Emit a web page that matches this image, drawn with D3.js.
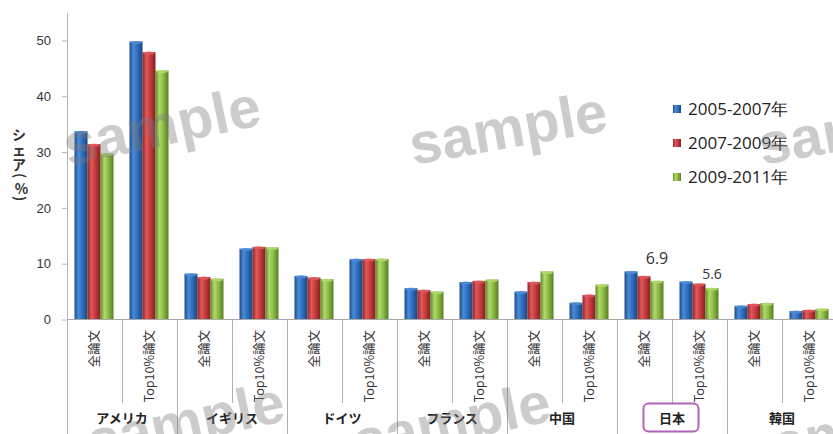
<!DOCTYPE html>
<html><head><meta charset="utf-8">
<script src="https://cdn.jsdelivr.net/npm/d3@7"></script>
<style>body{margin:0;background:#fff}svg{display:block}</style>
</head><body>
<script>
// ---- data ----
const groups = ["アメリカ","イギリス","ドイツ","フランス","中国","日本","韓国"];
const subTypes = ["全論文","Top10%論文"];
const series = ["2005-2007年","2007-2009年","2009-2011年"];
const s2005 = [33.7,49.8, 8.2,12.7, 7.8,10.8, 5.6,6.7, 5.0,3.0, 8.6,6.8, 2.45,1.5];
const s2007 = [31.4,47.9, 7.6,13.0, 7.5,10.8, 5.25,6.9, 6.7,4.4, 7.75,6.4, 2.75,1.7];
const s2009 = [29.7,44.6, 7.3,12.9, 7.2,10.85, 5.0,7.15, 8.6,6.25, 6.9,5.6, 2.95,1.9];
const yTicks = [0,10,20,30,40,50];
const annotations = [
  {group:"日本", sub:"全論文", series:"2009-2011年", text:"6.9"},
  {group:"日本", sub:"Top10%論文", series:"2009-2011年", text:"5.6"}
];
const highlightGroup = "日本";
const yTitle = "シェア(%)";
const watermark = "sample";

// ---- build ----
const W = 833, H = 434;
const seriesValues = [s2005, s2007, s2009];
const cats = [];
groups.forEach(g => subTypes.forEach(s => cats.push(g + "|" + s)));
const rows = [];
cats.forEach((c, i) => series.forEach((s, j) => rows.push({cat:c, series:s, value:seriesValues[j][i]})));

const svg = d3.select("body").append("svg").attr("width", W).attr("height", H);
const defs = svg.append("defs");
const pal = [
  ["#1d4a86","#4a8bd8","#2f6fbf","#1a4478"],
  ["#8e2326","#e0585a","#c63c3e","#7f1f22"],
  ["#5f8a26","#b0d86a","#8dbb44","#567d22"]
];
pal.forEach((p, i) => {
  const lg = defs.append("linearGradient").attr("id", "g" + i).attr("x1", 0).attr("x2", 1).attr("y1", 0).attr("y2", 0);
  lg.append("stop").attr("offset", "0%").attr("stop-color", p[0]);
  lg.append("stop").attr("offset", "30%").attr("stop-color", p[1]);
  lg.append("stop").attr("offset", "60%").attr("stop-color", p[2]);
  lg.append("stop").attr("offset", "100%").attr("stop-color", p[3]);
});

const x = d3.scaleBand().domain(cats).range([67, 837]);
const xs = d3.scaleBand().domain(series).range([7.5, 46.5]);
const y = d3.scaleLinear().domain([0, 55]).range([319.5, 12.5]);
const color = d3.scaleOrdinal().domain(series).range([0,1,2]);

// bars
svg.append("g").selectAll("rect").data(rows).join("rect")
  .attr("x", d => x(d.cat) + xs(d.series))
  .attr("width", xs.bandwidth())
  .attr("y", d => y(d.value))
  .attr("height", d => y(0) - y(d.value))
  .attr("fill", d => `url(#g${color(d.series)})`);
// top caps
svg.append("g").selectAll("ellipse").data(rows).join("ellipse")
  .attr("cx", d => x(d.cat) + xs(d.series) + xs.bandwidth()/2)
  .attr("cy", d => y(d.value) + 1)
  .attr("rx", xs.bandwidth()/2 - 0.5)
  .attr("ry", 1.6)
  .attr("fill", d => pal[color(d.series)][1])
  .attr("opacity", 0.9);

// y axis
const ya = svg.append("g").attr("transform", "translate(67,0)")
  .call(d3.axisLeft(y).tickValues(yTicks).tickSize(5).tickSizeOuter(0).tickPadding(11));
ya.select(".domain").attr("stroke", "#b4b4b4");
ya.selectAll(".tick line").attr("stroke", "#b4b4b4");
ya.selectAll(".tick text").attr("font-family", "Liberation Sans, Arial, sans-serif")
  .attr("font-size", 13).attr("fill", "#333");

// baseline
svg.append("line").attr("x1", 67).attr("x2", W).attr("y1", y(0)).attr("y2", y(0))
  .attr("stroke", "#a8a8a8");

// separators
const seps = cats.map((c, i) => ({x: x(c), major: i % 2 === 0})).concat([{x: x.range()[1], major: true}]);
svg.append("g").selectAll("line").data(seps).join("line")
  .attr("x1", d => Math.round(d.x) + 0.5).attr("x2", d => Math.round(d.x) + 0.5)
  .attr("y1", y(0)).attr("y2", d => d.major ? H : 403)
  .attr("stroke", "#b0b0b0");

// category labels (rotated)
svg.append("g").selectAll("text").data(cats).join("text")
  .attr("transform", c => `translate(${x(c) + x.bandwidth()/2 + 4},330) rotate(-90)`)
  .attr("text-anchor", "end")
  .attr("font-family", "Noto Sans CJK JP, sans-serif")
  .attr("font-size", 12.5).attr("fill", "#333")
  .text(c => c.split("|")[1]);

// group labels
const gx = g => x(g + "|" + subTypes[0]) + x.bandwidth();
svg.append("g").selectAll("text").data(groups).join("text")
  .attr("x", g => gx(g)).attr("y", 423)
  .attr("text-anchor", "middle")
  .attr("font-family", "Noto Sans CJK JP, sans-serif")
  .attr("font-weight", "bold")
  .attr("font-size", 13).attr("fill", "#222")
  .text(g => g);
svg.append("rect")
  .attr("x", gx(highlightGroup) - 28.5).attr("y", 403.5).attr("width", 55).attr("height", 28)
  .attr("rx", 5).attr("fill", "none").attr("stroke", "#b463bb").attr("stroke-width", 2);

// annotations
const annDy = [17, 9];
svg.append("g").selectAll("text").data(annotations).join("text")
  .attr("x", d => x(d.group + "|" + d.sub) + xs(d.series) + xs.bandwidth()/2)
  .attr("y", (d, i) => {
    const v = seriesValues[series.indexOf(d.series)][cats.indexOf(d.group + "|" + d.sub)];
    return y(v) - annDy[i];
  })
  .attr("text-anchor", "middle")
  .attr("font-family", "Open Sans, Liberation Sans, sans-serif")
  .attr("font-size", (d, i) => i === 0 ? 16 : 14)
  .attr("fill", "#333")
  .text(d => d.text);

// legend
const lg = svg.append("g").selectAll("g").data(series).join("g")
  .attr("transform", (d, i) => `translate(673,${109 + i * 34})`);
lg.append("rect").attr("x", 0).attr("y", -4).attr("width", 8).attr("height", 8)
  .attr("fill", d => `url(#g${color(d)})`);
lg.append("text").attr("x", 15).attr("y", 0).attr("dy", "0.36em")
  .attr("font-family", "Open Sans, sans-serif")
  .attr("font-size", 17).attr("fill", "#222")
  .text(d => d);

// y title: one text element, characters stacked vertically; brackets turned
const fs = 14;
const title = svg.append("text")
  .attr("font-family", "Noto Sans CJK JP, sans-serif")
  .attr("font-weight", "bold").attr("font-size", fs).attr("fill", "#333");
let cy = 127;
Array.from(yTitle).forEach(ch => {
  const turned = ch === "(" || ch === ")";
  const adv = turned ? 10 : (ch === "%" ? 13 : 15);
  const t = title.append("tspan").text(ch);
  if (turned) {
    t.attr("x", 19 - 0.3 * fs).attr("y", cy + 1).attr("rotate", 90);
  } else {
    const w = ch === "%" ? 0.6 * fs : fs;
    t.attr("x", 19 - w / 2).attr("y", cy + adv / 2 + 0.36 * fs);
  }
  cy += adv;
});

// watermarks
const wm = [[68,166,-12],[413,165,-10],[762,165,-10],[92,462,-12],[358,462,-12],[745,470,-10]];
svg.append("g").selectAll("text").data(wm).join("text")
  .attr("transform", d => `translate(${d[0]},${d[1]}) rotate(${d[2]})`)
  .attr("font-family", "Liberation Sans, Arial, sans-serif")
  .attr("font-weight", "bold").attr("font-size", 58)
  .attr("fill", "#7a7a7a").attr("opacity", 0.38)
  .text(watermark);
</script>
</body></html>
